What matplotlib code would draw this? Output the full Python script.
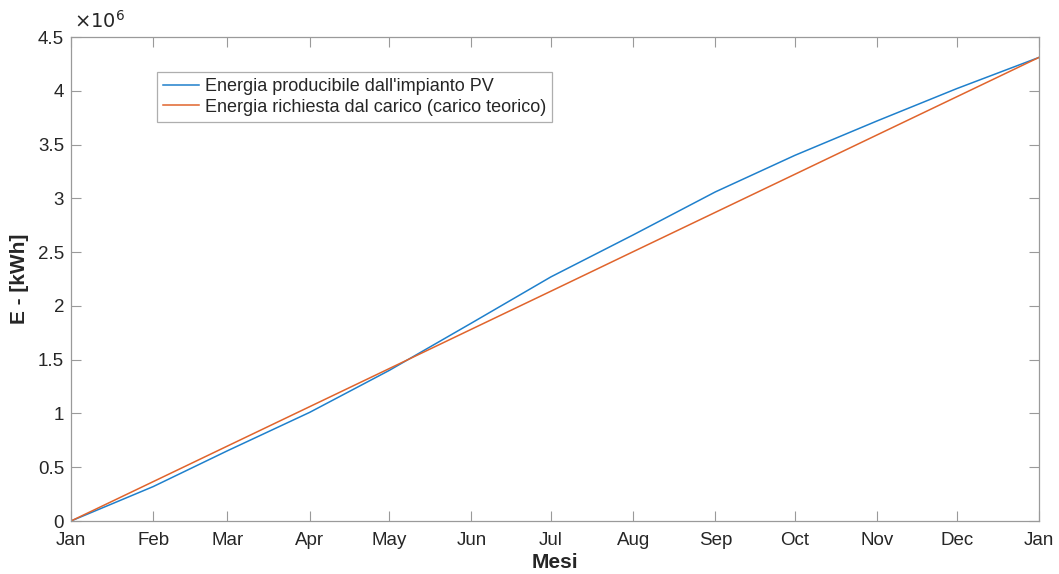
import pandas as pd
import matplotlib.pyplot as plt
import matplotlib.dates as mdates

plt.rcParams['font.family'] = ['Liberation Sans', 'DejaVu Sans']

# cumulative energy at the start of each month [kWh]
mesi = pd.date_range('2019-01-01', '2020-01-01', freq='MS')
energia_pv = [0, 0.32e6, 0.653e6, 1.01e6, 1.40e6, 1.84e6, 2.27e6,
              2.66e6, 3.06e6, 3.40e6, 3.72e6, 4.02e6, 4.31e6]
energia_carico = [0, 0.366e6, 0.697e6, 1.063e6, 1.417e6, 1.783e6, 2.137e6,
                  2.504e6, 2.87e6, 3.224e6, 3.59e6, 3.944e6, 4.31e6]
y_ticks = [0, 0.5e6, 1e6, 1.5e6, 2e6, 2.5e6, 3e6, 3.5e6, 4e6, 4.5e6]
y_labels = ['0', '0.5', '1', '1.5', '2', '2.5', '3', '3.5', '4', '4.5']

blu = '#1f80cc'
arancio = '#e0642c'
grigio = '#262626'
bordo = '#9a9a9a'

fig = plt.figure(figsize=(10.59, 5.74), dpi=100)
ax = fig.add_axes([0.067, 0.0923, 0.914, 0.8432])

ax.plot(mesi, energia_pv, color=blu, lw=1.1, label="Energia producibile dall'impianto PV")
ax.plot(mesi, energia_carico, color=arancio, lw=1.1, label='Energia richiesta dal carico (carico teorico)')

ax.set_xlim(mesi[0], mesi[-1])
ax.set_ylim(0, 4.5e6)
ax.set_xticks(mesi)
ax.xaxis.set_major_formatter(mdates.DateFormatter('%b'))
ax.set_yticks(y_ticks)
ax.set_yticklabels(y_labels)

ax.tick_params(direction='in', length=7, width=0.8, color=bordo, labelcolor=grigio,
               labelsize=13.5, top=True, right=True)
ax.tick_params(axis='x', pad=8)
ax.tick_params(axis='y', pad=5)
for s in ax.spines.values():
    s.set_color(bordo)
    s.set_linewidth(0.9)

ax.text(0.003, 1.01, r'$\times10^{6}$', transform=ax.transAxes, fontsize=14,
        color=grigio, ha='left', va='bottom')

ax.set_xlabel('Mesi', fontsize=15, fontweight='bold', color=grigio, labelpad=3)
ax.set_ylabel('E - [kWh]', fontsize=15, fontweight='bold', color=grigio, labelpad=6)

leg = ax.legend(loc='upper left', bbox_to_anchor=(0.0888, 0.928), borderaxespad=0,
                fontsize=13, frameon=True, fancybox=False, edgecolor=bordo,
                handlelength=2.0, handletextpad=0.3, borderpad=0.35, labelspacing=0.2)
leg.get_frame().set_linewidth(0.9)
for t in leg.get_texts():
    t.set_color(grigio)

fig.savefig('out.png', dpi=100)
